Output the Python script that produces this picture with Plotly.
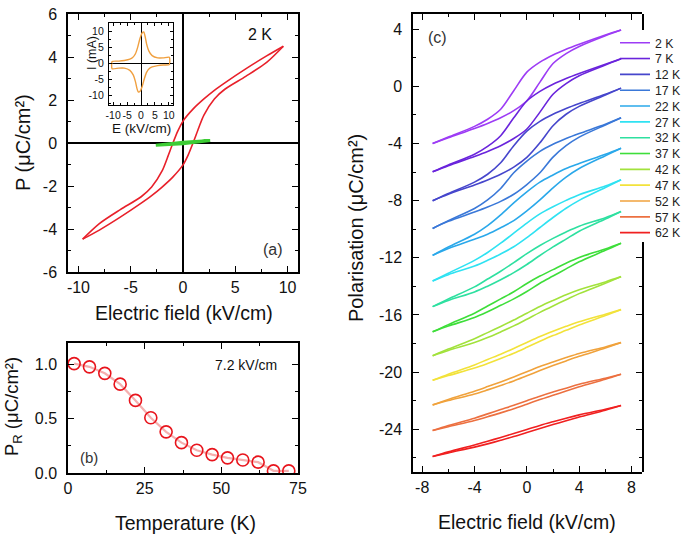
import plotly.graph_objects as go

FONT = "Arial, Liberation Sans, Helvetica, sans-serif"
W, H = 681, 543

# ---------------- panel (a): P-E loop at 2 K ----------------
A_E_DOWN = [9.6, 8, 6, 4, 3, 2, 1, 0, -0.5, -1, -1.5, -2, -3, -4, -6, -8, -9.6]
A_P_DOWN = [4.5, 4.05, 3.45, 2.8, 2.45, 2.05, 1.6, 1.02, 0.55, -0.05, -0.7, -1.3, -2.05, -2.5, -3.1, -3.75, -4.47]
A_E_UP = [-9.6, -8, -6, -4, -3, -2, -1, 0, 0.5, 1, 1.5, 2, 3, 4, 6, 8, 9.6]
A_P_UP = [-4.47, -4.05, -3.45, -2.8, -2.45, -2.05, -1.6, -1.02, -0.55, 0.05, 0.7, 1.3, 2.05, 2.5, 3.1, 3.75, 4.5]
A_GREEN_E = [2.6, 0, -2.6, 0, 2.6]
A_GREEN_P = [0.12, 0.03, -0.1, -0.03, 0.12]
A_XTICKS = [-10, -5, 0, 5, 10]
A_XLABELS = ["-10", "-5", "0", "5", "10"]
A_YTICKS = [-6, -4, -2, 0, 2, 4, 6]
A_YLABELS = ["-6", "-4", "-2", "0", "2", "4", "6"]

# inset: I-E loop
IN_E = [-10.4, -8, -6, -4, -3, -2, -1.2, -0.4, 0.4, 1.0, 1.5, 2.0, 2.8, 4, 6, 8, 10.2,
        10.2, 8, 6, 4, 3, 2, 1.2, 0.4, -0.4, -1.0, -1.5, -2.0, -2.8, -4, -6, -8, -10.4, -10.4]
IN_I = [0.5, 0.6, 0.8, 1.2, 1.7, 2.9, 4.9, 7.6, 9.4, 9.7, 8.2, 6.0, 3.8, 2.3, 1.6, 1.6, 1.8,
        -0.5, -0.6, -0.8, -1.2, -1.7, -2.9, -4.9, -7.4, -8.9, -9.0, -7.8, -5.8, -3.7, -2.3, -1.6, -1.6, -1.8, 0.5]
IN_TICKS = [-10, -5, 0, 5, 10]
IN_LABELS = ["-10", "-5", "0", "5", "10"]

# ---------------- panel (b): remanent polarisation ----------------
B_T = [2, 7, 12, 17, 22, 27, 32, 37, 42, 47, 52, 57, 62, 67, 72]
B_PR = [1.01, 0.98, 0.92, 0.82, 0.67, 0.51, 0.38, 0.28, 0.21, 0.17, 0.14, 0.12, 0.10, 0.02, 0.02]
B_XTICKS = [0, 25, 50, 75]
B_YTICKS = [0.0, 0.5, 1.0]
B_YLABELS = ["0.0", "0.5", "1.0"]

# ---------------- panel (c): loops vs temperature (offset) ----------------
C_TEMPS = ["2 K", "7 K", "12 K", "17 K", "22 K", "27 K", "32 K", "37 K", "42 K", "47 K", "52 K", "57 K", "62 K"]
C_COLORS = ["#9d3cf5", "#6a24dc", "#4646cc", "#3a78d8", "#2aa8ea", "#2fe2f2", "#2ee0a0", "#3ede3a",
            "#a2e23c", "#f2e23a", "#f0a23c", "#ec7040", "#f02020"]
C_E_DOWN = [7.2, 6, 4, 3, 2, 1, 0, -1, -2, -3, -4, -6, -7.2]
C_E_UP = [-7.2, -6, -4, -3, -2, -1, 0, 1, 2, 3, 4, 6, 7.2]

P02_DOWN = [3.95, 3.6, 2.95, 2.6, 2.2, 1.7, 1.0, -0.3, -1.6, -2.3, -2.8, -3.55, -4.0]
P02_UP = [-4.0, -3.6, -2.95, -2.6, -2.2, -1.7, -1.0, 0.3, 1.6, 2.3, 2.8, 3.55, 3.95]
P07_DOWN = [1.93, 1.55, 0.9, 0.55, 0.15, -0.35, -1.02, -2.2, -3.45, -4.2, -4.75, -5.5, -5.98]
P07_UP = [-5.98, -5.55, -4.9, -4.55, -4.15, -3.65, -2.98, -1.8, -0.55, 0.2, 0.75, 1.5, 1.93]
P12_DOWN = [-0.12, -0.55, -1.2, -1.55, -1.95, -2.45, -3.13, -4.15, -5.35, -6.15, -6.7, -7.5, -8.0]
P12_UP = [-8.0, -7.55, -6.9, -6.55, -6.15, -5.65, -4.97, -3.95, -2.75, -1.95, -1.4, -0.6, -0.12]
P17_DOWN = [-2.2, -2.65, -3.3, -3.65, -4.05, -4.55, -5.23, -6.05, -7.15, -7.95, -8.55, -9.4, -9.95]
P17_UP = [-9.95, -9.45, -8.8, -8.45, -8.05, -7.55, -6.87, -6.05, -4.95, -4.15, -3.55, -2.7, -2.2]
P22_DOWN = [-4.33, -4.75, -5.4, -5.75, -6.2, -6.7, -7.38, -8.15, -9.0, -9.75, -10.35, -11.25, -11.83]
P22_UP = [-11.83, -11.35, -10.7, -10.35, -9.9, -9.4, -8.72, -7.95, -7.1, -6.35, -5.75, -4.85, -4.33]
P27_DOWN = [-6.54, -6.98, -7.58, -7.98, -8.43, -8.93, -9.57, -10.28, -10.98, -11.63, -12.18, -13.08, -13.62]
P27_UP = [-13.62, -13.18, -12.58, -12.18, -11.73, -11.23, -10.59, -9.88, -9.18, -8.53, -7.98, -7.08, -6.54]
P32_DOWN = [-8.76, -9.19, -9.79, -10.19, -10.64, -11.14, -11.71, -12.34, -12.94, -13.49, -14.04, -14.89, -15.42]
P32_UP = [-15.42, -14.99, -14.39, -13.99, -13.54, -13.04, -12.47, -11.84, -11.24, -10.69, -10.14, -9.29, -8.76]
P37_DOWN = [-10.98, -11.38, -11.98, -12.38, -12.83, -13.28, -13.8, -14.38, -14.88, -15.38, -15.88, -16.68, -17.18]
P37_UP = [-17.18, -16.78, -16.18, -15.78, -15.33, -14.88, -14.36, -13.78, -13.28, -12.78, -12.28, -11.48, -10.98]
P42_DOWN = [-13.32, -13.69, -14.24, -14.59, -14.99, -15.41, -15.88, -16.36, -16.81, -17.24, -17.67, -18.39, -18.86]
P42_UP = [-18.86, -18.49, -17.94, -17.59, -17.19, -16.77, -16.3, -15.82, -15.37, -14.94, -14.51, -13.79, -13.32]
P47_DOWN = [-15.63, -15.95, -16.48, -16.8, -17.15, -17.52, -17.93, -18.35, -18.75, -19.12, -19.5, -20.15, -20.58]
P47_UP = [-20.58, -20.25, -19.72, -19.4, -19.05, -18.68, -18.27, -17.85, -17.45, -17.08, -16.7, -16.05, -15.63]
P52_DOWN = [-17.94, -18.24, -18.7, -18.99, -19.3, -19.62, -19.98, -20.34, -20.69, -21.02, -21.34, -21.92, -22.3]
P52_UP = [-22.3, -22.0, -21.54, -21.25, -20.94, -20.62, -20.26, -19.9, -19.55, -19.22, -18.9, -18.32, -17.94]
P57_DOWN = [-20.16, -20.43, -20.86, -21.13, -21.4, -21.69, -22.01, -22.33, -22.63, -22.93, -23.23, -23.75, -24.1]
P57_UP = [-24.1, -23.83, -23.4, -23.13, -22.86, -22.57, -22.25, -21.93, -21.63, -21.33, -21.03, -20.51, -20.16]
P62_DOWN = [-22.35, -22.6, -23.0, -23.23, -23.48, -23.74, -24.03, -24.31, -24.58, -24.85, -25.11, -25.59, -25.91]
P62_UP = [-25.91, -25.66, -25.26, -25.03, -24.78, -24.52, -24.23, -23.95, -23.68, -23.41, -23.15, -22.67, -22.35]

C_DOWN = [P02_DOWN, P07_DOWN, P12_DOWN, P17_DOWN, P22_DOWN, P27_DOWN, P32_DOWN,
          P37_DOWN, P42_DOWN, P47_DOWN, P52_DOWN, P57_DOWN, P62_DOWN]
C_UP = [P02_UP, P07_UP, P12_UP, P17_UP, P22_UP, P27_UP, P32_UP,
        P37_UP, P42_UP, P47_UP, P52_UP, P57_UP, P62_UP]
C_XTICKS = [-8, -4, 0, 4, 8]
C_XLABELS = ["-8", "-4", "0", "4", "8"]
C_YTICKS = [4, 0, -4, -8, -12, -16, -20, -24]
C_YLABELS = ["4", "0", "-4", "-8", "-12", "-16", "-20", "-24"]
C_YRANGE = [-27, 5.07]

fig = go.Figure()

# panel (a)
fig.add_trace(go.Scatter(x=A_E_DOWN, y=A_P_DOWN, mode="lines", xaxis="x", yaxis="y", showlegend=False,
                         line=dict(color="#e8202a", width=1.6, shape="spline", smoothing=0.8)))
fig.add_trace(go.Scatter(x=A_E_UP, y=A_P_UP, mode="lines", xaxis="x", yaxis="y", showlegend=False,
                         line=dict(color="#e8202a", width=1.6, shape="spline", smoothing=0.8)))
fig.add_trace(go.Scatter(x=A_GREEN_E, y=A_GREEN_P, mode="lines", xaxis="x", yaxis="y", showlegend=False,
                         line=dict(color="#3ccc34", width=3)))
# inset
fig.add_trace(go.Scatter(x=IN_E, y=IN_I, mode="lines", xaxis="x2", yaxis="y2", showlegend=False,
                         line=dict(color="#f0a040", width=1.4, shape="spline", smoothing=0.5)))
# panel (b)
fig.add_trace(go.Scatter(x=B_T, y=B_PR, mode="lines", xaxis="x3", yaxis="y3", showlegend=False,
                         line=dict(color="rgba(236,110,110,0.55)", width=2.2)))
fig.add_trace(go.Scatter(x=B_T, y=B_PR, mode="markers", xaxis="x3", yaxis="y3", showlegend=False,
                         marker=dict(symbol="circle-open", size=12, color="#e8141c", line=dict(width=1.6))))

# panel (c)
for k, name in enumerate(C_TEMPS):
    leg = "legend" if k == 0 else "legend%d" % (k + 1)
    fig.add_trace(go.Scatter(x=C_E_DOWN, y=C_DOWN[k], mode="lines", xaxis="x4", yaxis="y4",
                             name=name, legendgroup=name, legend=leg,
                             line=dict(color=C_COLORS[k], width=1.6, shape="spline", smoothing=0.9)))
    fig.add_trace(go.Scatter(x=C_E_UP, y=C_UP[k], mode="lines", xaxis="x4", yaxis="y4",
                             name=name, legendgroup=name, legend=leg, showlegend=False,
                             line=dict(color=C_COLORS[k], width=1.6, shape="spline", smoothing=0.9)))

# empty traces so the split right-hand frame pieces of panel (c) get drawn
fig.add_trace(go.Scatter(x=[], y=[], xaxis="x4", yaxis="y5", showlegend=False, hoverinfo="skip"))
fig.add_trace(go.Scatter(x=[], y=[], xaxis="x4", yaxis="y6", showlegend=False, hoverinfo="skip"))


def axstyle(**kw):
    d = dict(showline=True, linecolor="black", linewidth=1.5, mirror="ticks", ticks="inside",
             ticklen=6, tickwidth=1.3, tickcolor="black", showgrid=False, zeroline=False,
             tickfont=dict(family=FONT, size=16, color="#111"), tickmode="array")
    d.update(kw)
    return d


def minor(dt, ln=3.5):
    return dict(tickmode="linear", tick0=0, dtick=dt, ticks="inside", ticklen=ln, tickwidth=1.2,
                tickcolor="black", showgrid=False)


def px_x(a, b):
    return [a / W, b / W]


def px_y(top, bottom):
    return [(H - bottom) / H, (H - top) / H]


# panel (c) frame geometry (pixels) and pieces of the right frame not hidden by the legend
C_TOP, C_BOT = 14, 472
per_px = (C_YRANGE[1] - C_YRANGE[0]) / (C_BOT - C_TOP)
R_LOW_TOP = 242     # lower visible piece of right frame: 242..472 px
R_UP_BOT = 30       # upper visible piece: 14..30 px
range_low = [C_YRANGE[0], C_YRANGE[0] + (C_BOT - R_LOW_TOP) * per_px]
range_up = [C_YRANGE[1] - (R_UP_BOT - C_TOP) * per_px, C_YRANGE[1]]

layout = dict(
    width=W, height=H, margin=dict(l=0, r=0, t=0, b=0, autoexpand=False),
    paper_bgcolor="white", plot_bgcolor="rgba(0,0,0,0)", font=dict(family=FONT, color="#111"),
    xaxis=axstyle(domain=px_x(68, 298), range=[-11, 11], tickvals=A_XTICKS, ticktext=A_XLABELS,
                  minor=minor(2.5), zeroline=True, zerolinecolor="black", zerolinewidth=1.5,
                  anchor="y"),
    yaxis=axstyle(domain=px_y(14, 272), range=[-6, 6], tickvals=A_YTICKS, ticktext=A_YLABELS,
                  minor=minor(1), zeroline=True, zerolinecolor="black", zerolinewidth=1.5,
                  anchor="x", ticklabelstandoff=6),
    xaxis2=axstyle(domain=px_x(109, 173), range=[-11.5, 11.5], tickvals=IN_TICKS, ticktext=IN_LABELS,
                   ticklen=3, linewidth=1.2, tickangle=0, tickfont=dict(family=FONT, size=10.5, color="#111"),
                   minor=minor(2.5, 2), zeroline=True, zerolinecolor="black", zerolinewidth=1.2,
                   anchor="y2"),
    yaxis2=axstyle(domain=px_y(23, 105), range=[-13.1, 12.5], tickvals=IN_TICKS, ticktext=IN_LABELS,
                   ticklen=3, linewidth=1.2, tickfont=dict(family=FONT, size=10.5, color="#111"),
                   minor=minor(2.5, 2), zeroline=True, zerolinecolor="black", zerolinewidth=1.2,
                   anchor="x2", ticklabelstandoff=2),
    xaxis3=axstyle(domain=px_x(68, 298), range=[0, 75], tickvals=B_XTICKS, minor=minor(12.5),
                   anchor="y3"),
    yaxis3=axstyle(domain=px_y(343, 473), range=[0, 1.2], tickvals=B_YTICKS, ticktext=B_YLABELS,
                   minor=minor(0.25), anchor="x3", ticklabelstandoff=6),
    xaxis4=axstyle(domain=px_x(413, 642), range=[-8.7, 8.8], tickvals=C_XTICKS, ticktext=C_XLABELS,
                   minor=minor(2), anchor="y4"),
    yaxis4=axstyle(domain=px_y(C_TOP, C_BOT), range=C_YRANGE, tickvals=C_YTICKS, ticktext=C_YLABELS,
                   minor=minor(2), anchor="x4", ticklabelstandoff=6, mirror=False),
    yaxis5=axstyle(domain=px_y(R_LOW_TOP, C_BOT), range=range_low, tickvals=C_YTICKS,
                   showticklabels=False, minor=minor(2), anchor="x4", side="right", mirror=False),
    yaxis6=axstyle(domain=px_y(C_TOP, R_UP_BOT), range=range_up, tickvals=C_YTICKS,
                   showticklabels=False, minor=minor(2), anchor="x4", side="right", mirror=False),
)

for k in range(len(C_TEMPS)):
    key = "legend" if k == 0 else "legend%d" % (k + 1)
    layout[key] = dict(x=615 / W, xanchor="left", y=1 - (42.7 + 15.83 * k) / H, yanchor="middle",
                       bgcolor="rgba(0,0,0,0)", borderwidth=0, itemwidth=30, tracegroupgap=0,
                       font=dict(family=FONT, size=12.3, color="#222"))

fig.update_layout(**layout)


def ann(text, x, y, size, angle=0, color="#111"):
    fig.add_annotation(text=text, x=x / W, y=1 - y / H, xref="paper", yref="paper", showarrow=False,
                       textangle=angle, font=dict(family=FONT, size=size, color=color),
                       xanchor="center", yanchor="middle")


ann("P (\u03bcC/cm\u00b2)", 23, 143, 20, -90)
ann("Electric field (kV/cm)", 184, 313, 19.5)
ann("I (mA)", 92, 53, 12.5, -90)
ann("E (kV/cm)", 141, 129, 13.5)
ann("2 K", 260, 34, 16)
ann("(a)", 273, 250, 16, color="#333")
ann("P<sub>R</sub> (\u03bcC/cm\u00b2)", 13, 407, 18.5, -90)
ann("Temperature (K)", 185, 523, 19.5)
ann("7.2 kV/cm", 246, 365, 14)
ann("(b)", 89, 457, 15, color="#333")
ann("Polarisation (\u03bcC/cm\u00b2)", 356, 228, 20, -90)
ann("Electric field (kV/cm)", 527, 522, 19.5)
ann("(c)", 437, 37, 16, color="#333")

fig.write_html("out.html")
